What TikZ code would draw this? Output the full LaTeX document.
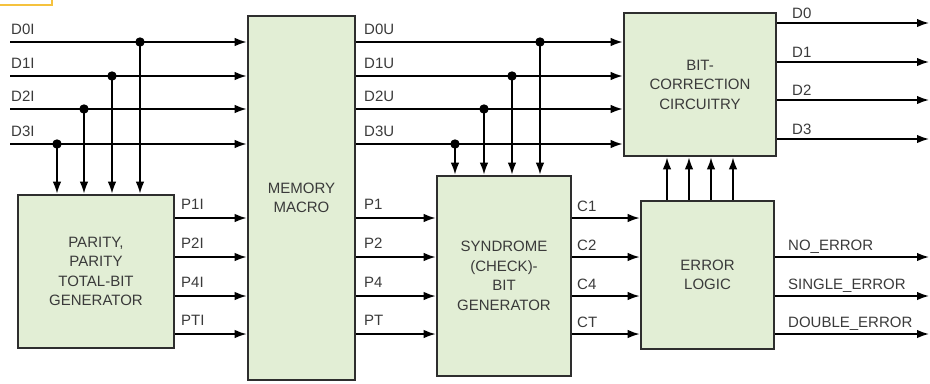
\documentclass[tikz,border=0pt]{standalone}
\usepackage{fontspec}
\setmainfont{Liberation Sans}
\usetikzlibrary{arrows.meta}
\definecolor{boxfill}{HTML}{E2EED5}
\definecolor{boxline}{HTML}{2E2E2E}
\definecolor{txt}{HTML}{3A3A3A}
\definecolor{orng}{HTML}{F5C23E}
\tikzset{
  box/.style={draw=boxline, fill=boxfill, line width=2.6bp, inner sep=0pt,
    align=center, text=txt, font=\fontsize{15bp}{19.5bp}\selectfont},
  arr/.style={line width=1.7bp, -{Latex[length=12bp,width=8.5bp]}},
  lab/.style={anchor=base west, inner sep=0pt, text=txt, font=\fontsize{15bp}{17bp}\selectfont},
  jdot/.style={fill=black}
}
\begin{document}
\begin{tikzpicture}[x=1bp,y=-1bp]
\useasboundingbox (0,0) rectangle (930,383);
\clip (0,0) rectangle (930,383);
\draw[orng, line width=2bp] (-5,-5) rectangle (52,5);

% boxes
\node[box, minimum width=156bp, minimum height=153bp] (par) at (96,271.5) {PARITY,\\PARITY\\TOTAL-BIT\\GENERATOR};
\node[box, minimum width=107bp, minimum height=364bp] (mem) at (301.5,198) {MEMORY\\MACRO};
\node[box, minimum width=134bp, minimum height=200bp] (syn) at (504,276) {SYNDROME\\(CHECK)-\\BIT\\GENERATOR};
\node[box, minimum width=152bp, minimum height=143bp] (bc) at (700,84.5) {BIT-\\CORRECTION\\CIRCUITRY};
\node[box, minimum width=133bp, minimum height=148bp] (err) at (707.5,275) {ERROR\\LOGIC};

% input data rows
\coordinate (in0) at (10,42);
\coordinate (in1) at (10,76);
\coordinate (in2) at (10,109);
\coordinate (in3) at (10,144);
% junctions on input rows
\coordinate (j0) at (140,42);
\coordinate (j1) at (112,76);
\coordinate (j2) at (84,109);
\coordinate (j3) at (57,144);
% junctions on memory outputs
\coordinate (k0) at (540,42);
\coordinate (k1) at (512,76);
\coordinate (k2) at (484,109);
\coordinate (k3) at (455,144);
% parity rows
\coordinate (r1) at (0,218);
\coordinate (r2) at (0,257);
\coordinate (r3) at (0,296);
\coordinate (r4) at (0,334);
% outputs
\coordinate (o0) at (929,23);
\coordinate (o1) at (929,62);
\coordinate (o2) at (929,100);
\coordinate (o3) at (929,139);
\coordinate (e1) at (929,257);
\coordinate (e2) at (929,296);
\coordinate (e3) at (929,334);
% error to correction columns
\coordinate (c1) at (667,0);
\coordinate (c2) at (689,0);
\coordinate (c3) at (711,0);
\coordinate (c4) at (733,0);

\foreach \i in {0,1,2,3}{
  \draw[arr] (in\i) -- (in\i -| mem.west);
  \draw[arr] (j\i) -- (j\i |- par.north);
  \fill[jdot] (j\i) circle (4.7bp);
  \draw[arr] (mem.east |- in\i) -- (bc.west |- in\i);
  \draw[arr] (k\i) -- (k\i |- syn.north);
  \fill[jdot] (k\i) circle (4.7bp);
  \draw[arr] (bc.east |- o\i) -- (o\i);
}
\foreach \i in {1,2,3,4}{
  \draw[arr] (par.east |- r\i) -- (mem.west |- r\i);
  \draw[arr] (mem.east |- r\i) -- (syn.west |- r\i);
  \draw[arr] (syn.east |- r\i) -- (err.west |- r\i);
  \draw[arr] (err.north -| c\i) -- (bc.south -| c\i);
}
\foreach \i in {1,2,3}{
  \draw[arr] (err.east |- e\i) -- (e\i);
}

% labels
\node[lab] (l0) at (11,34) {D0I};
\node[lab] (l1) at (11,68) {D1I};
\node[lab] (l2) at (11,101) {D2I};
\node[lab] (l3) at (11,136) {D3I};
\node[lab] (m0) at (364,34) {D0U};
\node[lab] (m1) at (364,68) {D1U};
\node[lab] (m2) at (364,101) {D2U};
\node[lab] (m3) at (364,136) {D3U};
\node[lab] (p1) at (181,209) {P1I};
\node[lab] (p2) at (181,248) {P2I};
\node[lab] (p3) at (181,287) {P4I};
\node[lab] (p4) at (181,325) {PTI};
\node[lab] (q1) at (364,209) {P1};
\node[lab] (q2) at (364,248) {P2};
\node[lab] (q3) at (364,287) {P4};
\node[lab] (q4) at (364,325) {PT};
\node[lab] (s1) at (577,211) {C1};
\node[lab] (s2) at (577,250) {C2};
\node[lab] (s3) at (577,289) {C4};
\node[lab] (s4) at (577,327) {CT};
\node[lab] (d0) at (792,18) {D0};
\node[lab] (d1) at (792,57) {D1};
\node[lab] (d2) at (792,95) {D2};
\node[lab] (d3) at (792,134) {D3};
\node[lab] (n1) at (788,250) {NO\_ERROR};
\node[lab] (n2) at (788,289) {SINGLE\_ERROR};
\node[lab] (n3) at (788,327) {DOUBLE\_ERROR};
\end{tikzpicture}
\end{document}
